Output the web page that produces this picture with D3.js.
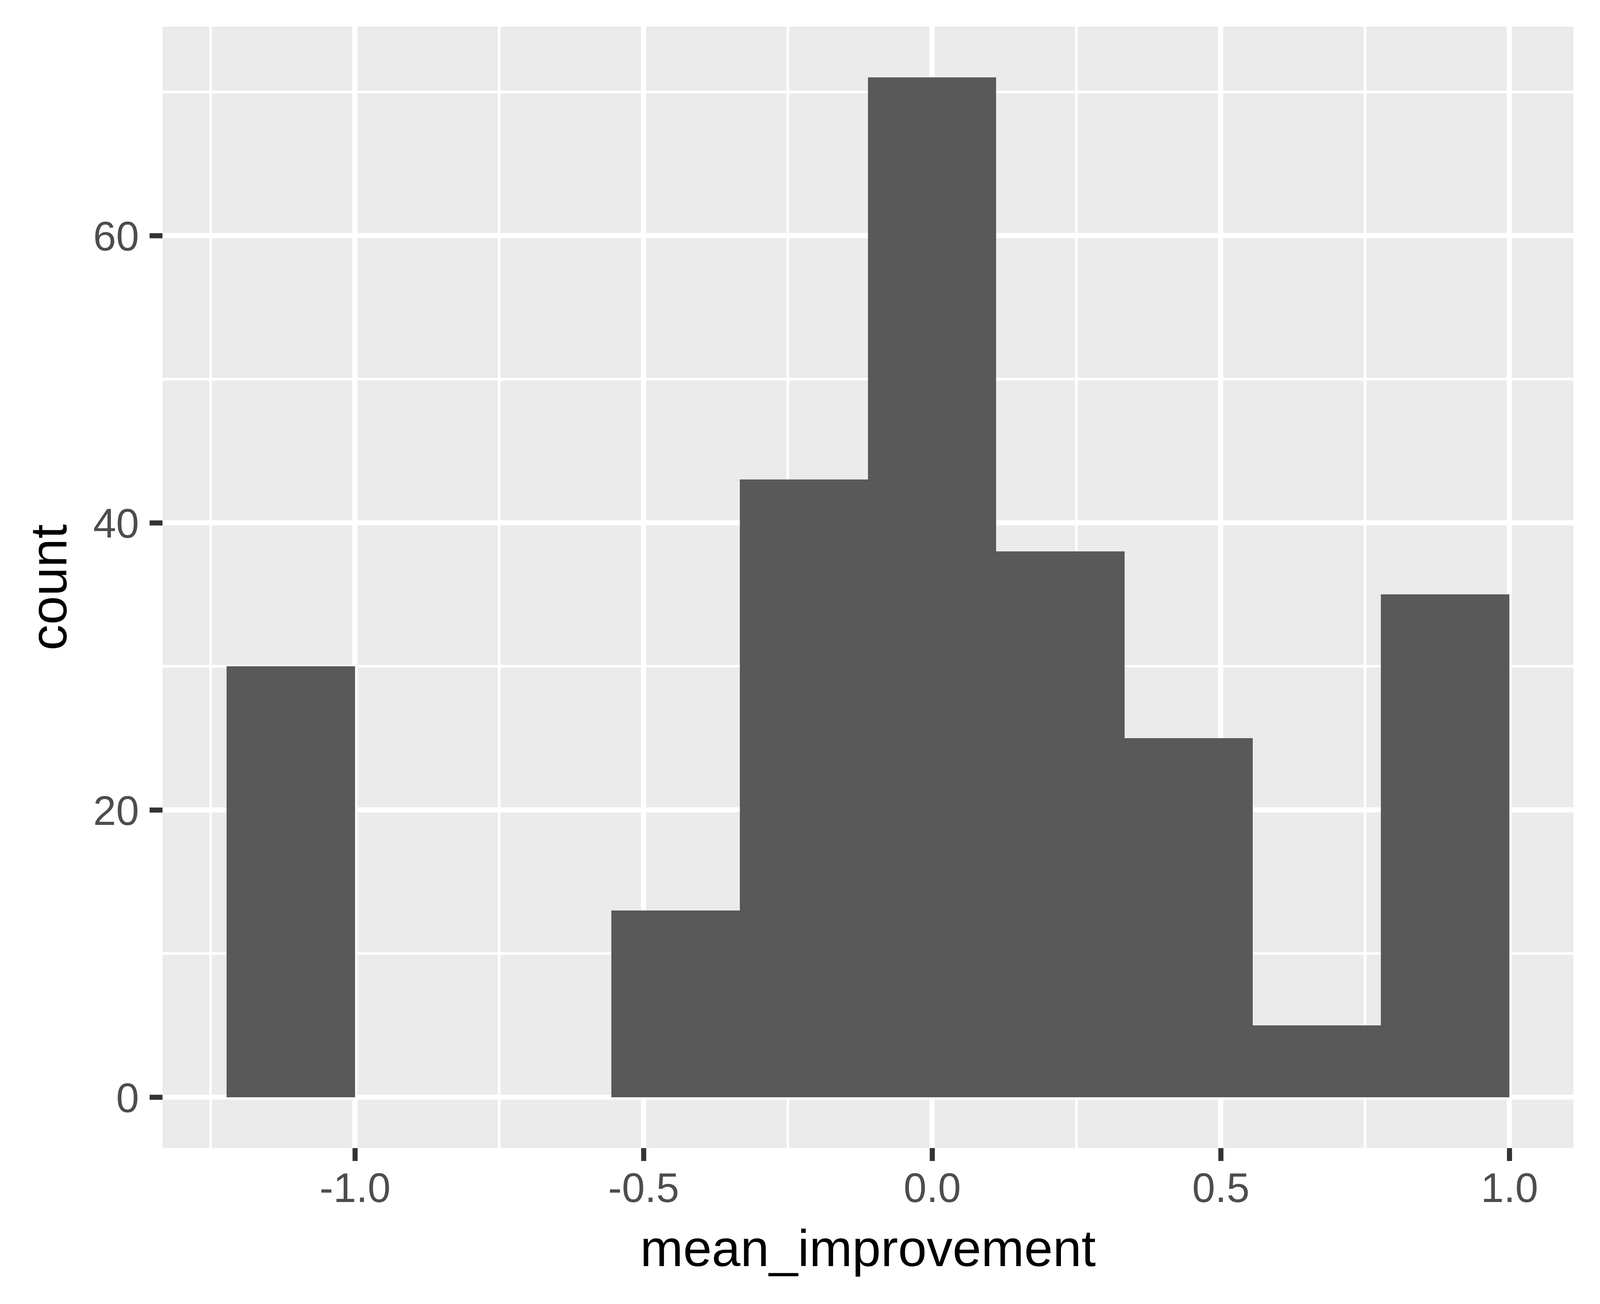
<!DOCTYPE html>
<html>
<head>
<meta charset="utf-8">
<script src="https://cdn.jsdelivr.net/npm/d3@7"></script>
<style>
  html, body { margin: 0; padding: 0; background: #fff; overflow: hidden; }
  #chart svg { display: block; width: 100vw; height: 100vh; }
  text { font-family: "Liberation Sans", Arial, Helvetica, sans-serif; }
</style>
</head>
<body>
<div id="chart"></div>
<script>
// histogram bins (10 bins, width 2/9)
const binEdges = [-1.2222, -1.0, -0.7778, -0.5556, -0.3333, -0.1111, 0.1111, 0.3333, 0.5556, 0.7778, 1.0];
const counts = [30, 0, 0, 13, 43, 71, 38, 25, 5, 35];
const xTicks = [-1.0, -0.5, 0.0, 0.5, 1.0];
const xMinor = [-1.25, -0.75, -0.25, 0.25, 0.75];
const yTicks = [0, 20, 40, 60];
const yMinor = [10, 30, 50, 70];
const xLabel = "mean_improvement";
const yLabel = "count";

// user units: height is always 3337, width follows the real window shape
const height = 3337;
const vw = window.innerWidth || 5400;
const vh = window.innerHeight || 3337;
const width = Math.round((height * vw) / vh);
const margin = { top: 68, right: 68, bottom: 399, left: 416 };

const bins = counts.map((c, i) => ({ x0: binEdges[i], x1: binEdges[i + 1], count: c }));

// ggplot-style 5% expansion
const xExt = d3.extent(binEdges);
const xPad = (xExt[1] - xExt[0]) * 0.05;
const yMax = d3.max(counts);
const yPad = yMax * 0.05;

const x = d3
  .scaleLinear()
  .domain([xExt[0] - xPad, xExt[1] + xPad])
  .range([margin.left, width - margin.right]);

const y = d3
  .scaleLinear()
  .domain([-yPad, yMax + yPad])
  .range([height - margin.bottom, margin.top]);

const svg = d3
  .select("#chart")
  .append("svg")
  .attr("viewBox", [0, 0, width, height])
  .attr("preserveAspectRatio", "xMidYMid meet");

// panel background
svg
  .append("rect")
  .attr("x", x.range()[0])
  .attr("y", y.range()[1])
  .attr("width", x.range()[1] - x.range()[0])
  .attr("height", y.range()[0] - y.range()[1])
  .attr("fill", "#EBEBEB");

// grid lines
const grid = svg.append("g").attr("stroke", "#fff");

grid
  .selectAll(".xminor")
  .data(xMinor)
  .join("line")
  .attr("x1", (d) => x(d))
  .attr("x2", (d) => x(d))
  .attr("y1", y.range()[0])
  .attr("y2", y.range()[1])
  .attr("stroke-width", 6.5);

grid
  .selectAll(".yminor")
  .data(yMinor)
  .join("line")
  .attr("x1", x.range()[0])
  .attr("x2", x.range()[1])
  .attr("y1", (d) => y(d))
  .attr("y2", (d) => y(d))
  .attr("stroke-width", 6.5);

grid
  .selectAll(".xmajor")
  .data(xTicks)
  .join("line")
  .attr("x1", (d) => x(d))
  .attr("x2", (d) => x(d))
  .attr("y1", y.range()[0])
  .attr("y2", y.range()[1])
  .attr("stroke-width", 13);

grid
  .selectAll(".ymajor")
  .data(yTicks)
  .join("line")
  .attr("x1", x.range()[0])
  .attr("x2", x.range()[1])
  .attr("y1", (d) => y(d))
  .attr("y2", (d) => y(d))
  .attr("stroke-width", 13);

// bars
svg
  .append("g")
  .attr("shape-rendering", "crispEdges")
  .selectAll("rect")
  .data(bins)
  .join("rect")
  .attr("x", (d) => x(d.x0))
  .attr("width", (d) => x(d.x1) - x(d.x0))
  .attr("y", (d) => y(d.count))
  .attr("height", (d) => y(0) - y(d.count))
  .attr("fill", "#595959");

// axes
const styleAxis = (g) => {
  g.attr("font-family", null).attr("font-size", null);
  g.select(".domain").remove();
  g.selectAll(".tick line").attr("stroke", "#333333").attr("stroke-width", 13);
  g.selectAll(".tick text").attr("fill", "#4D4D4D").attr("font-size", 105.6);
};

svg
  .append("g")
  .attr("transform", `translate(0,${y.range()[0]})`)
  .call(
    d3
      .axisBottom(x)
      .tickValues(xTicks)
      .tickFormat((d) => d.toFixed(1))
      .tickSize(33)
      .tickPadding(30)
  )
  .call(styleAxis);

svg
  .append("g")
  .attr("transform", `translate(${x.range()[0]},0)`)
  .call(
    d3
      .axisLeft(y)
      .tickValues(yTicks)
      .tickFormat((d) => d)
      .tickSize(33)
      .tickPadding(27)
  )
  .call(styleAxis)
  .call((g) => g.selectAll(".tick text").attr("dy", "0.355em"));

// axis titles
svg
  .append("text")
  .attr("x", (x.range()[0] + x.range()[1]) / 2)
  .attr("y", 3240)
  .attr("text-anchor", "middle")
  .attr("font-size", 132)
  .attr("fill", "#000")
  .text(xLabel);

svg
  .append("text")
  .attr("transform", `translate(170,${(y.range()[0] + y.range()[1]) / 2}) rotate(-90)`)
  .attr("text-anchor", "middle")
  .attr("font-size", 132)
  .attr("fill", "#000")
  .text(yLabel);
</script>
</body>
</html>
